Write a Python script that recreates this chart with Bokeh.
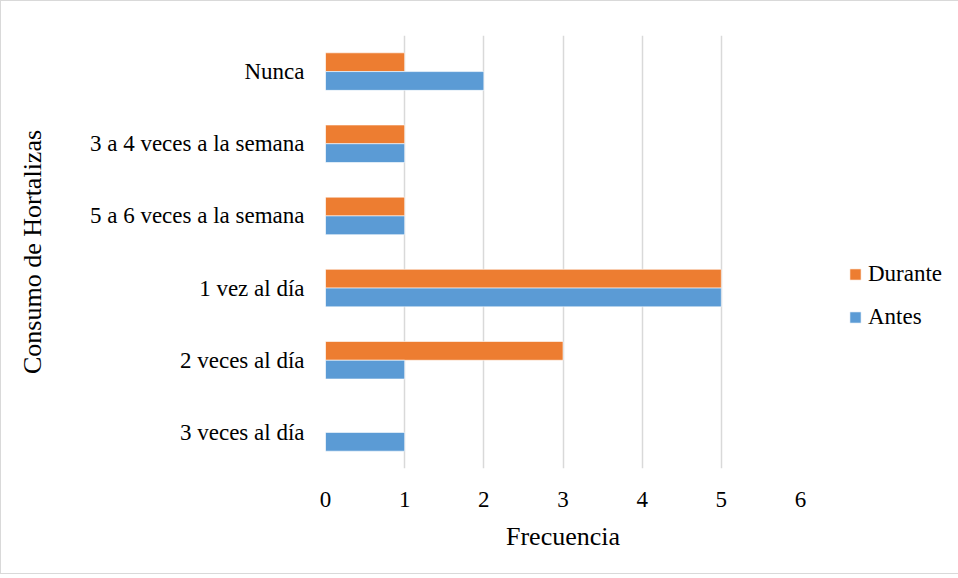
from bokeh.plotting import figure
from bokeh.models import FactorRange, Legend, LegendItem, ColumnDataSource, FixedTicker
from bokeh.transform import dodge
from bokeh.embed import file_html
from bokeh.resources import INLINE

categories = ["3 veces al día", "2 veces al día", "1 vez al día",
              "5 a 6 veces a la semana", "3 a 4 veces a la semana", "Nunca"]
durante = [0, 3, 5, 1, 1, 1]
antes = [1, 1, 5, 1, 1, 2]
x_ticks = [0, 1, 2, 3, 4, 5, 6]

FONT = "Liberation Serif"

src = ColumnDataSource(dict(cat=categories, durante=durante, antes=antes))

p = figure(frame_width=475, frame_height=433, y_range=FactorRange(factors=categories),
           x_range=(0, 6), output_backend="svg", toolbar_location=None,
           min_border_left=324, min_border_right=155, min_border_top=34,
           min_border_bottom=105)
p.styles = {"border": "1px solid #d9d9d9"}
p.outline_line_color = None

r_d = p.hbar(y=dodge("cat", 0.13, range=p.y_range), right="durante", left=0,
             height=0.26, source=src, fill_color="#ED7D31", line_color="white",
             line_width=0.6)
r_a = p.hbar(y=dodge("cat", -0.13, range=p.y_range), right="antes", left=0,
             height=0.26, source=src, fill_color="#5B9BD5", line_color="white",
             line_width=0.6)

p.ygrid.grid_line_color = None
p.xgrid.grid_line_color = "#d9d9d9"
p.xgrid.grid_line_width = 1.5
p.xaxis.ticker = FixedTicker(ticks=x_ticks)

for ax in (p.xaxis[0], p.yaxis[0]):
    ax.axis_line_color = None
    ax.major_tick_line_color = None
    ax.minor_tick_line_color = None
    ax.major_label_text_font = FONT
    ax.major_label_text_font_size = "23px"
    ax.major_label_text_color = "#000000"
    ax.axis_label_text_font = FONT
    ax.axis_label_text_font_style = "normal"
    ax.axis_label_text_color = "#000000"

p.xaxis.axis_label = "Frecuencia"
p.yaxis.axis_label = "Consumo de Hortalizas"
p.xaxis.axis_label_text_font_size = "26px"
p.yaxis.axis_label_text_font_size = "26px"
p.yaxis.major_label_standoff = 15
p.xaxis.major_label_standoff = 17
p.xaxis.axis_label_standoff = 12
p.yaxis.axis_label_standoff = 40

legend = Legend(items=[LegendItem(label="Durante", renderers=[r_d]),
                       LegendItem(label="Antes", renderers=[r_a])],
                location=(48, 138), orientation="vertical")
legend.label_text_font = FONT
legend.label_text_font_size = "23px"
legend.label_text_color = "#000000"
legend.glyph_width = 14
legend.glyph_height = 14
legend.label_standoff = 6
legend.spacing = 17
legend.padding = 0
legend.margin = 0
legend.border_line_color = None
legend.background_fill_alpha = 0
p.add_layout(legend, "right")

open("out.html", "w").write(file_html(p, INLINE))
